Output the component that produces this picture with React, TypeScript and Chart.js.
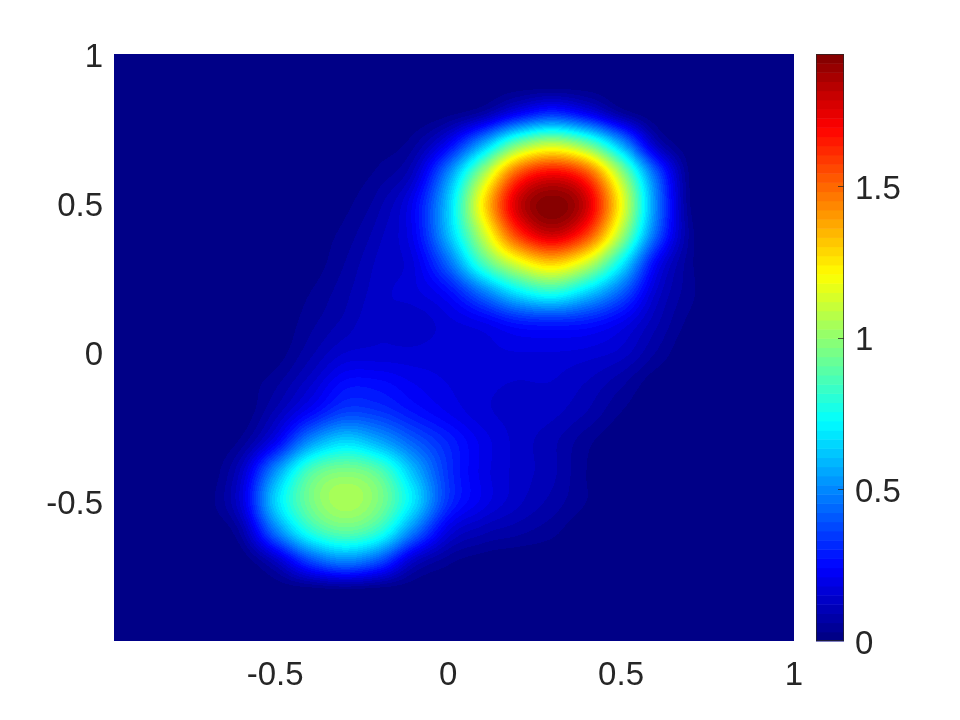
import React, { useEffect, useRef } from "react";
import { Chart, registerables } from "chart.js";

Chart.register(...registerables);

const xNodes = [-1, -0.9, -0.8, -0.7, -0.6, -0.5, -0.4, -0.3, -0.2, -0.1, 0, 0.1, 0.2, 0.3, 0.4, 0.5, 0.6, 0.7, 0.8, 0.9, 1];
const yNodes = [1, 0.9, 0.8, 0.7, 0.6, 0.5, 0.4, 0.3, 0.2, 0.1, 0, -0.1, -0.2, -0.3, -0.4, -0.5, -0.6, -0.7, -0.8, -0.9, -1];
const zRows = [
  [0,0,0,0,0,0,0,0,0,0,0,0,0,0,0,0,0,0,0,0,0],
  [0,0,0,0,0,0,0,0,0,0,0,0,0,0,0,0,0,0,0,0,0],
  [0,0,0,0,0,0,0,0,0,0,.02,.08,.23,.33,.23,.07,0,0,0,0,0],
  [0,0,0,0,0,0,0,0,.01,.05,.22,.55,.92,1.07,.92,.55,.12,0,0,0,0],
  [0,0,0,0,0,0,0,.01,.04,.13,.5,1.02,1.53,1.7,1.55,1.02,.42,.02,0,0,0],
  [0,0,0,0,0,0,0,.02,.08,.22,.62,1.24,1.78,1.93,1.78,1.2,.5,.03,0,0,0],
  [0,0,0,0,0,0,.01,.04,.11,.22,.6,1.1,1.6,1.8,1.6,1.06,.44,.05,0,0,0],
  [0,0,0,0,0,0,.01,.06,.13,.18,.44,.85,1.15,1.3,1.12,.72,.24,.04,0,0,0],
  [0,0,0,0,0,0,.03,.08,.14,.17,.25,.46,.68,.78,.64,.42,.15,.04,0,0,0],
  [0,0,0,0,0,0,.05,.1,.15,.13,.17,.21,.28,.3,.28,.21,.1,.02,0,0,0],
  [0,0,0,0,0,.01,.08,.15,.16,.16,.17,.17,.18,.18,.17,.14,.06,0,0,0,0],
  [0,0,0,0,.01,.05,.14,.25,.25,.21,.18,.16,.15,.15,.12,.07,.01,0,0,0,0],
  [0,0,0,0,0,.1,.24,.36,.34,.27,.21,.16,.14,.13,.09,.03,0,0,0,0,0],
  [0,0,0,0,.04,.22,.52,.66,.57,.42,.3,.2,.14,.1,.04,0,0,0,0,0,0],
  [0,.0,0,0,.13,.52,.87,.97,.89,.6,.33,.2,.14,.1,.03,0,0,0,0,0,0],
  [0,0,0,.01,.16,.64,.94,1.05,.96,.68,.33,.2,.13,.08,.03,0,0,0,0,0,0],
  [0,0,0,0,.07,.46,.78,.9,.8,.47,.18,.1,.07,.04,0,0,0,0,0,0,0],
  [0,0,0,0,0,.12,.36,.48,.38,.13,.04,.01,0,0,0,0,0,0,0,0,0],
  [0,0,0,0,0,0,0,.01,0,0,0,0,0,0,0,0,0,0,0,0,0],
  [0,0,0,0,0,0,0,0,0,0,0,0,0,0,0,0,0,0,0,0,0],
  [0,0,0,0,0,0,0,0,0,0,0,0,0,0,0,0,0,0,0,0,0],
];
const xTicks = [-0.5, 0, 0.5, 1];
const yTicks = [-0.5, 0, 0.5, 1];
const barTicks = [0, 0.5, 1, 1.5];
const zMax = 1.936;
const axisMin = -0.966;

const jet = (t: number): [number, number, number] => {
  const level = Math.min(63, Math.max(0, Math.floor(t * 64)));
  const f = (level + 0.5) / 64;
  const c = (v: number) => Math.round(255 * Math.min(1, Math.max(0, v)));
  return [c(1.5 - Math.abs(4 * f - 3)), c(1.5 - Math.abs(4 * f - 2)), c(1.5 - Math.abs(4 * f - 1))];
};

const cr = (t: number) => {
  const t2 = t * t, t3 = t2 * t;
  return [-0.5 * t3 + t2 - 0.5 * t, 1.5 * t3 - 2.5 * t2 + 1, -1.5 * t3 + 2 * t2 + 0.5 * t, 0.5 * t3 - 0.5 * t2];
};

const sample = (x: number, y: number) => {
  const fx = (x - xNodes[0]) / (xNodes[1] - xNodes[0]);
  const fy = (yNodes[0] - y) / (yNodes[0] - yNodes[1]);
  const ix = Math.floor(fx), iy = Math.floor(fy);
  const wx = cr(fx - ix), wy = cr(fy - iy);
  let s = 0;
  for (let j = 0; j < 4; j++) {
    const row = zRows[Math.min(zRows.length - 1, Math.max(0, iy - 1 + j))];
    for (let i = 0; i < 4; i++) {
      s += wy[j] * wx[i] * row[Math.min(row.length - 1, Math.max(0, ix - 1 + i))];
    }
  }
  return Math.max(0, s);
};

const heatPlugin = {
  id: "heat",
  beforeDatasetsDraw(chart: any) {
    const { ctx, chartArea: a, scales } = chart;
    const w = Math.round(a.right - a.left), h = Math.round(a.bottom - a.top);
    const off = document.createElement("canvas");
    off.width = w; off.height = h;
    const oc = off.getContext("2d")!;
    const img = oc.createImageData(w, h);
    for (let py = 0; py < h; py++) {
      const yv = scales.y.getValueForPixel(a.top + py + 0.5);
      for (let px = 0; px < w; px++) {
        const xv = scales.x.getValueForPixel(a.left + px + 0.5);
        const [r, g, b] = jet(sample(xv, yv) / zMax);
        const k = (py * w + px) * 4;
        img.data[k] = r; img.data[k + 1] = g; img.data[k + 2] = b; img.data[k + 3] = 255;
      }
    }
    oc.putImageData(img, 0, 0);
    ctx.drawImage(off, a.left, a.top);

    const bs = scales.bar;
    const bl = 816, br = 844;
    for (let lv = 0; lv < 64; lv++) {
      const y0 = bs.getPixelForValue((lv / 64) * zMax);
      const y1 = bs.getPixelForValue(((lv + 1) / 64) * zMax);
      const [r, g, b] = jet((lv + 0.5) / 64);
      ctx.fillStyle = `rgb(${r},${g},${b})`;
      ctx.fillRect(bl, y1, br - bl, y0 - y1 + 0.5);
    }
    ctx.strokeStyle = "rgba(38,38,38,0.75)";
    ctx.lineWidth = 1;
    ctx.strokeRect(bl + 0.5, a.top + 0.5, br - bl - 1, a.bottom - a.top - 1);
    ctx.beginPath();
    barTicks.filter((t) => t > 0).forEach((t) => {
      const y = Math.round(bs.getPixelForValue(t)) + 0.5;
      ctx.moveTo(br - 6, y);
      ctx.lineTo(br, y);
    });
    ctx.stroke();
  },
};

const family = "'Liberation Sans', Arial, sans-serif";
const xFont = { family, size: 33 };
// a blank first line of this height lowers the vertical-axis labels onto the reference's baseline
const yFont = { family, size: 33, lineHeight: "7px" };
const tickColor = "#262626";
const loweredLabel = (v: any) => ["", String(v)];

export default function App() {
  const ref = useRef<HTMLCanvasElement>(null);
  useEffect(() => {
    const points: { x: number; y: number; v: number }[] = [];
    yNodes.forEach((y, j) => xNodes.forEach((x, i) => points.push({ x, y, v: zRows[j][i] })));
    const chart = new Chart(ref.current!, {
      type: "scatter",
      data: { datasets: [{ label: "z", data: points, pointRadius: 0, showLine: false }] },
      plugins: [heatPlugin],
      options: {
        animation: false,
        responsive: false,
        layout: { padding: { top: 54, left: 0, right: 0, bottom: 0 } },
        plugins: { legend: { display: false }, tooltip: { enabled: false } },
        scales: {
          x: {
            type: "linear", min: axisMin, max: 1,
            grid: { display: false }, border: { display: false },
            afterBuildTicks: (s: any) => { s.ticks = xTicks.map((value) => ({ value })); },
            afterFit: (s: any) => { s.height = 79; s.paddingLeft = 0; s.paddingRight = 0; },
            ticks: { font: xFont, color: tickColor, padding: 7, maxRotation: 0, autoSkip: false, callback: (v: any) => String(v) },
          },
          y: {
            type: "linear", min: axisMin, max: 1,
            grid: { display: false }, border: { display: false },
            afterBuildTicks: (s: any) => { s.ticks = yTicks.map((value) => ({ value })); },
            afterFit: (s: any) => { s.width = 114; s.paddingTop = 0; s.paddingBottom = 0; },
            ticks: { font: yFont, color: tickColor, padding: 3, autoSkip: false, callback: loweredLabel },
          },
          bar: {
            type: "linear", position: "right", min: 0, max: zMax,
            grid: { display: false }, border: { display: false },
            afterBuildTicks: (s: any) => { s.ticks = barTicks.map((value) => ({ value })); },
            afterFit: (s: any) => { s.width = 166; s.paddingTop = 0; s.paddingBottom = 0; },
            ticks: { font: yFont, color: tickColor, padding: 53, autoSkip: false, callback: loweredLabel },
          },
        },
      },
    } as any);
    return () => chart.destroy();
  }, []);
  return <canvas ref={ref} width={960} height={720} style={{ position: "absolute", left: 0, top: 0, display: "block" }} />;
}
